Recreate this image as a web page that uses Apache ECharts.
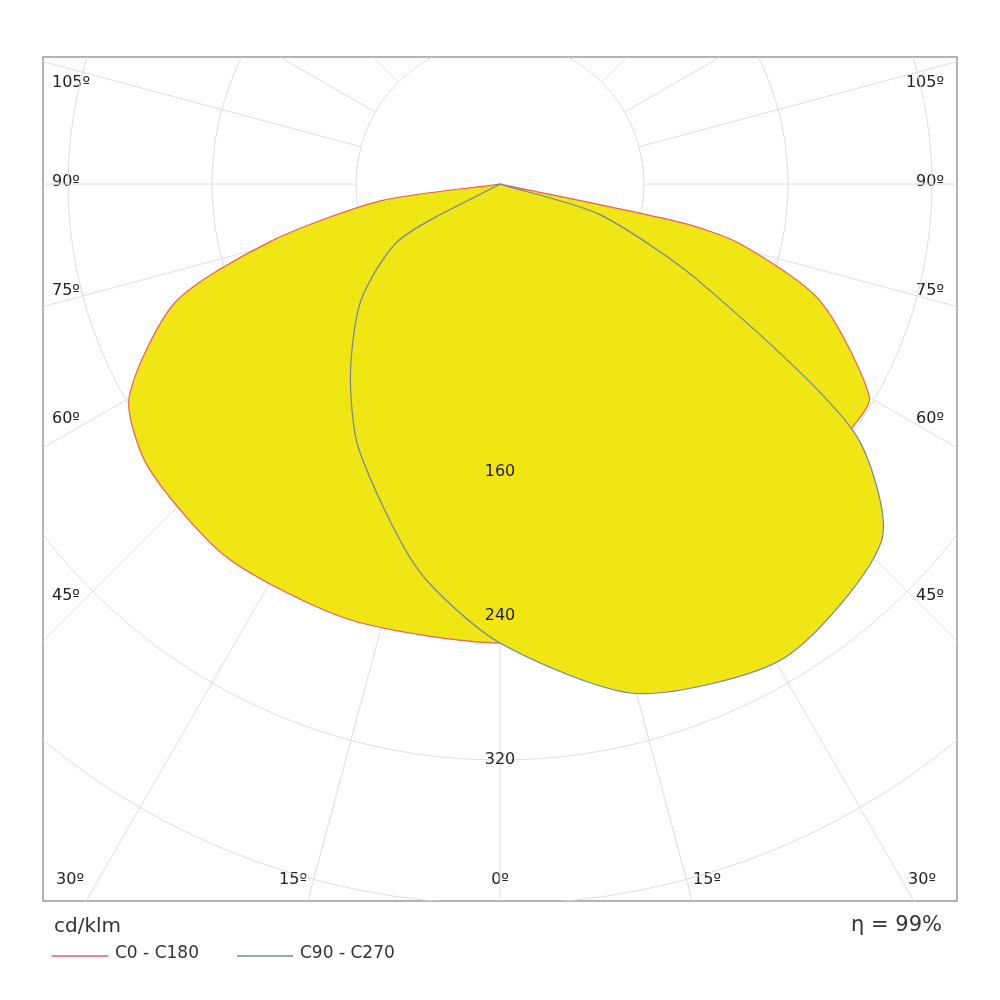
<!DOCTYPE html>
<html><head><meta charset="utf-8">
<script src="https://cdn.jsdelivr.net/npm/echarts@6/dist/echarts.min.js"></script>
<style>html,body{margin:0;background:#fff}#c{width:1000px;height:1000px}</style>
</head><body><div id="c"></div>
<script>
// gamma angles (deg, negative = left side) and intensities (cd/klm)
const c0Angles = [-90,-82,-76,-70,-60,-51,-36,-19,0,19,38,55,60,70,76,78,90];
const c0Values = [0,67,131,192,238,251,257,256,255,259,252,238,237,189,138,103,0];
const c90Angles = [-90,-61,-50,-38,-28,-12,0,15,31,47,55,64,73,90];
const c90Values = [0,64,101,135,167,219,255,293,307,290,240,123,58,0];
const ringValues = [80,160,240,320,400,480];
const ringLabels = ['160','240','320'];
const spokeAngles = [-90,-75,-60,-45,-30,-15,0,15,30,45,60,75,90,105,-105,120,-120,135,-135,150,-150,165,-165,180];
const edgeLabels = [['105º',85],['90º',184],['75º',293],['60º',421],['45º',598]];
const bottomLabels = [['30º',70],['15º',293],['0º',500],['15º',707],['30º',922]];

const chart = echarts.init(document.getElementById('c'));
const P = (a, r) => [r*Math.sin(a*Math.PI/180), -r*Math.cos(a*Math.PI/180)];
const font = 'DejaVu Sans';
function curveSeries(angles, vals, stroke, z){
  return {type:'custom', coordinateSystem:'cartesian2d', z, data:[0], silent:true,
    renderItem:(p, api)=>({type:'polygon', shape:{points:angles.map((a,i)=>api.coord(P(a,vals[i]))), smooth:0.25},
      style:{fill:'#f0e614', stroke, lineWidth:1.2}})};
}
chart.setOption({
  animation:false,
  grid:{left:43,top:57,width:914,height:844,show:true,borderColor:'#9a9a9a',borderWidth:1.5},
  xAxis:{type:'value',min:-253.9,max:253.9,show:false},
  yAxis:{type:'value',min:-398.3,max:70.6,show:false},
  series:[
    {type:'custom',coordinateSystem:'cartesian2d',z:1,data:[0],silent:true,clip:true,
     renderItem:(p,api)=>{
       const c=api.coord([0,0]); const s=api.size([1,1])[0]; const ch=[];
       ringValues.forEach(r=>ch.push({type:'circle',shape:{cx:c[0],cy:c[1],r:r*s},style:{fill:null,stroke:'#dedede',lineWidth:1}}));
       spokeAngles.forEach(a=>{const p1=api.coord(P(a,80)),p2=api.coord(P(a,700));
         ch.push({type:'line',shape:{x1:p1[0],y1:p1[1],x2:p2[0],y2:p2[1]},style:{stroke:'#dedede',lineWidth:1}});});
       return {type:'group',children:ch};
     }},
    curveSeries(c0Angles,c0Values,'#e86060',2),
    {...curveSeries(c90Angles,c90Values,'#6f84a8',3)},
    {type:'custom',coordinateSystem:'cartesian2d',z:4,data:[0],silent:true,
     renderItem:(p,api)=>({type:'group',children:ringLabels.map(t=>{const q=api.coord([0,-Number(t)]);
       return {type:'text',x:q[0],y:q[1],style:{text:t,font:'16px '+font,fill:'#222',align:'center',verticalAlign:'middle'}};})})}
  ],
  graphic:[
    ...edgeLabels.flatMap(([t,y])=>[
      {type:'text',left:52,top:y-10,style:{text:t,font:'16px '+font,fill:'#222'}},
      {type:'text',right:56,top:y-10,style:{text:t,font:'16px '+font,fill:'#222'}}]),
    ...bottomLabels.map(([t,x])=>({type:'text',x:x,y:880,style:{text:t,font:'16px '+font,fill:'#222',align:'center',verticalAlign:'middle'}})),
    {type:'text',left:54,top:917,style:{text:'cd/klm',font:'20px '+font,fill:'#333'}},
    {type:'text',right:58,top:915,style:{text:'η = 99%',font:'21px '+font,fill:'#333'}},
    {type:'line',shape:{x1:52,y1:956,x2:108,y2:956},style:{stroke:'#e86060',lineWidth:1.5}},
    {type:'text',left:115,top:945,style:{text:'C0 - C180',font:'17px '+font,fill:'#333'}},
    {type:'line',shape:{x1:237,y1:956,x2:293,y2:956},style:{stroke:'#6f84a8',lineWidth:1.5}},
    {type:'text',left:300,top:945,style:{text:'C90 - C270',font:'17px '+font,fill:'#333'}}
  ]
});
</script></body></html>
